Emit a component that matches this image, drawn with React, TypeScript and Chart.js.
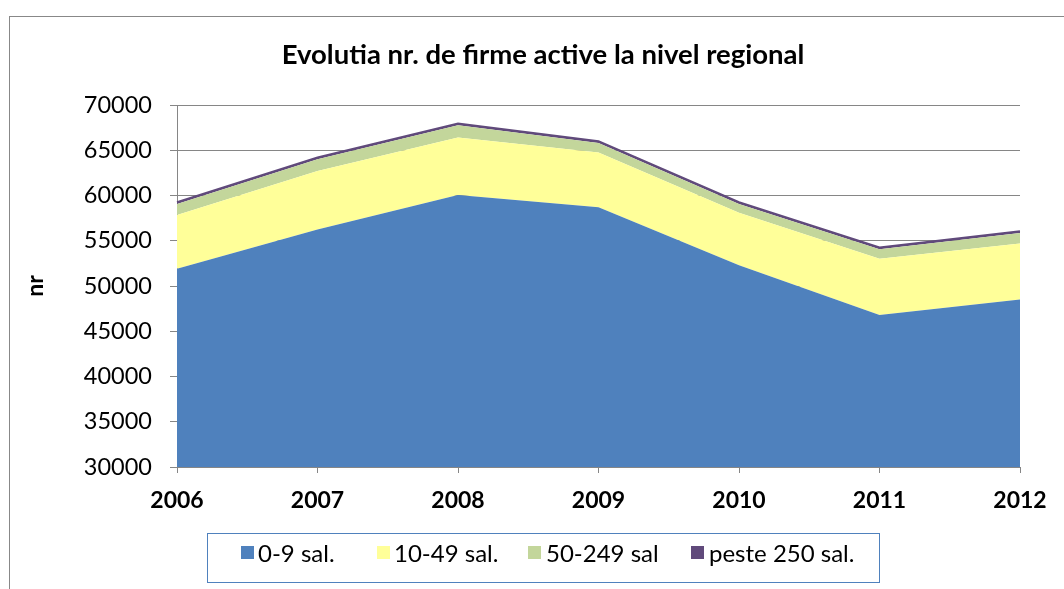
import React, { useEffect, useRef } from "react";
import { Chart, registerables } from "chart.js";

Chart.register(...registerables);

const years = ["2006", "2007", "2008", "2009", "2010", "2011", "2012"];
const firms0to9 = [51900, 56250, 60050, 58700, 52300, 46800, 48500];
const firms10to49 = [5950, 6450, 6350, 6050, 5800, 6200, 6200];
const firms50to249 = [1200, 1300, 1350, 1050, 950, 1050, 1150];
const firmsOver250 = [200, 200, 200, 200, 200, 200, 200];
const yTicks = [30000, 35000, 40000, 45000, 50000, 55000, 60000, 65000, 70000];

const seriesNames = ["0-9 sal.", "10-49 sal.", "50-249 sal", "peste 250 sal."];
const seriesColors = ["#4F81BD", "#FFFF99", "#C3D69B", "#604A7B"];

const FONT = "Lato, 'Open Sans', sans-serif";

export default function App() {
  const canvasRef = useRef<HTMLCanvasElement | null>(null);

  useEffect(() => {
    if (!canvasRef.current) return;
    const data = [firms0to9, firms10to49, firms50to249, firmsOver250];
    const chart = new Chart(canvasRef.current, {
      type: "line",
      data: {
        labels: years,
        datasets: data.map((d, i) => ({
          label: seriesNames[i],
          data: d,
          backgroundColor: seriesColors[i],
          borderColor: i === 3 ? seriesColors[3] : "rgba(0,0,0,0)",
          borderWidth: i === 3 ? 2 : 0,
          fill: i === 0 ? "origin" : "-1",
          pointRadius: 0,
          tension: 0,
        })),
      },
      options: {
        animation: false,
        responsive: false,
        maintainAspectRatio: false,
        layout: { padding: { left: 22, right: 44, top: 105, bottom: 72 } },
        plugins: {
          legend: { display: false },
          title: { display: false },
          tooltip: { enabled: false },
        },
        scales: {
          x: {
            type: "category",
            offset: false,
            grid: {
              drawOnChartArea: false,
              drawTicks: true,
              tickLength: 6,
              color: "#868686",
            },
            border: { color: "#868686", width: 1 },
            ticks: {
              color: "#000",
              font: { family: FONT, size: 23, weight: "bold" },
              padding: 14,
              maxRotation: 0,
            },
            afterFit: (scale: any) => {
              scale.height = 50;
            },
          },
          y: {
            stacked: true,
            min: 30000,
            max: 70000,
            afterBuildTicks: (scale: any) => {
              scale.ticks = yTicks.map((v) => ({ value: v }));
            },
            grid: {
              color: "#868686",
              drawTicks: true,
              tickLength: 7,
            },
            border: { color: "#868686", width: 1 },
            ticks: {
              color: "#000",
              font: { family: FONT, size: 23.5 },
              padding: 18,
              callback: (v: any) => String(v),
            },
            title: {
              display: true,
              text: "nr",
              color: "#000",
              font: { family: FONT, size: 23, weight: "bold" },
              padding: 0,
            },
            afterFit: (scale: any) => {
              scale.width = 155;
            },
          },
        },
      },
    });
    return () => chart.destroy();
  }, []);

  const legendItems = [
    { left: 241, textLeft: 258 },
    { left: 377, textLeft: 394 },
    { left: 528, textLeft: 546 },
    { left: 691, textLeft: 709 },
  ];

  return (
    <div
      style={{
        position: "fixed",
        left: 0,
        top: 0,
        width: 1064,
        height: 589,
        overflow: "hidden",
        background: "#fff",
        fontFamily: FONT,
      }}
    >
      <div
        style={{
          position: "absolute",
          left: 9,
          top: 16,
          width: 1100,
          height: 700,
          border: "1px solid #888",
          boxSizing: "border-box",
        }}
      />
      <canvas
        ref={canvasRef}
        width={1064}
        height={589}
        style={{ position: "absolute", left: 0, top: 0 }}
      />
      <div
        style={{
          position: "absolute",
          left: 0,
          width: 1086,
          top: 37,
          textAlign: "center",
          fontWeight: "bold",
          fontSize: 27.5,
          lineHeight: "34px",
          color: "#000",
        }}
      >
        Evolutia nr. de firme active la nivel regional
      </div>
      <div
        style={{
          position: "absolute",
          left: 207,
          top: 533,
          width: 673,
          height: 50,
          border: "1px solid #4F81BD",
          boxSizing: "border-box",
        }}
      />
      {legendItems.map((it, i) => (
        <React.Fragment key={i}>
          <div
            style={{
              position: "absolute",
              left: it.left,
              top: 546,
              width: 13,
              height: 13,
              background: seriesColors[i],
            }}
          />
          <div
            style={{
              position: "absolute",
              left: it.textLeft,
              top: 539,
              fontSize: 24,
              lineHeight: "28px",
              color: "#000",
              whiteSpace: "nowrap",
            }}
          >
            {seriesNames[i]}
          </div>
        </React.Fragment>
      ))}
    </div>
  );
}
